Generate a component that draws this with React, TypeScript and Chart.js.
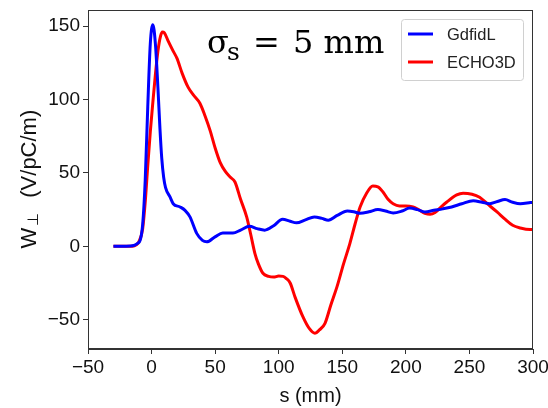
import React, { useEffect, useRef } from "react";
import { Chart, registerables } from "chart.js";

Chart.register(...registerables);

const gdfidlS = [-30, -20, -14, -11, -9, -7, -5, -3, -1, 1, 3, 5, 6.6, 8, 9.5, 11, 14.5, 17, 22.4, 26.3, 30.2, 35.5, 40, 43.4, 49.9, 56, 64, 70, 77, 83, 89, 96, 103, 109, 114, 121, 128, 134, 139, 146, 154, 159, 164, 171, 178, 184, 190, 197, 203, 209, 215, 222, 229, 236, 244, 253, 260, 266, 272, 278, 284, 290, 298, 300];
const gdfidlW = [0, 0, 0.5, 2, 4, 15, 45, 95, 138, 151, 138, 108, 80, 60, 47, 40, 33.6, 29, 26.8, 24.5, 20, 8.8, 4, 3, 6.4, 9, 9, 11, 13.6, 12, 11, 14, 18.4, 17, 16, 18, 20, 19, 17.7, 21, 24, 23.5, 22.5, 23.5, 25, 24, 22.7, 24, 26, 25, 23.4, 24.5, 25.5, 26.8, 29, 31, 30, 29, 30.5, 31.8, 30, 29, 29.8, 30];

const echoS = [-30, -20, -15, -12, -10, -7, -5, -3, -1, 1, 3, 5, 7, 8.5, 10, 13, 17, 20, 24, 28.6, 33, 38, 42, 46, 50, 54, 58, 62, 65.6, 70, 74.8, 78, 81.3, 84, 87.6, 92, 96, 100, 103.4, 106, 109, 113, 119, 124, 128.5, 132, 136.4, 141, 145.8, 151, 156, 160, 164, 169, 174, 178, 182, 186, 190, 195, 200, 205.6, 210, 215, 219, 223, 228, 232, 240, 245, 252, 258, 264, 271.7, 278, 284, 290, 297.7, 300];
const echoW = [0, 0, 0, 1, 3, 12, 30, 55, 78, 98, 117, 133, 143, 146, 145.5, 140, 133, 128, 118, 108.6, 103, 97.5, 89, 79, 67, 57, 51, 47, 43.8, 32, 20, 8, -5, -12, -18.4, -20.5, -21, -20.3, -20.5, -22, -25, -35, -48, -56, -59.3, -57, -52.5, -40, -27.7, -12, 2, 15, 26.8, 36, 41, 40.5, 37, 32, 29, 27.5, 27.5, 26.8, 25, 22.5, 21.8, 23, 27, 30, 35, 36.2, 35.5, 33.4, 29, 23.4, 18.5, 14.3, 12.5, 11.4, 11.5];

const xTicks = [-50, 0, 50, 100, 150, 200, 250, 300];
const yTicks = [-50, 0, 50, 100, 150];
const seriesLabels = ["GdfidL", "ECHO3D"];
const seriesColors = ["#0000ff", "#ff0000"];
const xTitle = "s (mm)";
const yTitleMain = "W";
const yTitleSub = "\u22A5";
const yTitleUnit = "(V/pC/m)";

const SANS = "'Liberation Sans', Arial, sans-serif";
const SERIF = "'DejaVu Serif', serif";

const framePlugin = {
  id: "frame",
  afterDraw(chart: any) {
    const { ctx, chartArea: a } = chart;
    ctx.save();
    ctx.strokeStyle = "#333333";
    ctx.lineWidth = 1;
    ctx.strokeRect(a.left + 0.5, a.top + 0.5, a.right - a.left - 1, a.bottom - a.top - 1);
    ctx.restore();
  },
};

const annotPlugin = {
  id: "annot",
  afterDraw(chart: any) {
    const { ctx, chartArea: a } = chart;
    ctx.save();
    ctx.fillStyle = "#000";
    ctx.textBaseline = "alphabetic";
    const base = a.top + 43;
    ctx.font = `32px ${SERIF}`;
    ctx.fillText("\u03C3", a.left + 119, base);
    ctx.font = `25px ${SERIF}`;
    ctx.fillText("s", a.left + 139, base + 7);
    ctx.font = `32px ${SERIF}`;
    ctx.fillText("=", a.left + 165, base);
    ctx.fillText("5 mm", a.left + 205, base);

    // y-axis title with subscript
    ctx.translate(36, (a.top + a.bottom) / 2 + 69);
    ctx.rotate(-Math.PI / 2);
    ctx.fillStyle = "#111";
    ctx.font = `22px ${SANS}`;
    ctx.fillText(yTitleMain, 0, 0);
    let x = ctx.measureText(yTitleMain).width + 2;
    ctx.font = `15px ${SANS}`;
    ctx.fillText(yTitleSub, x, 2);
    x += ctx.measureText(yTitleSub).width + 15;
    ctx.font = `22px ${SANS}`;
    ctx.fillText(yTitleUnit, x, 0);
    ctx.restore();
  },
};

const legendPlugin = {
  id: "customLegend",
  afterDraw(chart: any) {
    const { ctx, chartArea: a } = chart;
    const bx = a.right - 132;
    const by = a.top + 9;
    const bw = 122;
    const bh = 61;
    ctx.save();
    ctx.fillStyle = "rgba(255,255,255,0.8)";
    ctx.strokeStyle = "#d0d0d0";
    ctx.lineWidth = 1;
    ctx.beginPath();
    (ctx as any).roundRect(bx + 0.5, by + 0.5, bw, bh, 3);
    ctx.fill();
    ctx.stroke();
    ctx.font = `16.5px ${SANS}`;
    ctx.textBaseline = "middle";
    chart.data.datasets.forEach((ds: any, i: number) => {
      const y = by + 15 + i * 28;
      ctx.strokeStyle = ds.borderColor;
      ctx.lineWidth = 3;
      ctx.beginPath();
      ctx.moveTo(bx + 7, y);
      ctx.lineTo(bx + 32, y);
      ctx.stroke();
      ctx.fillStyle = "#222";
      ctx.fillText(ds.label, bx + 46, y + 1);
    });
    ctx.restore();
  },
};

export default function App() {
  const ref = useRef<HTMLCanvasElement>(null);
  useEffect(() => {
    document.body.style.margin = "0";
    const mk = (xs: number[], ys: number[]) => xs.map((x, i) => ({ x, y: ys[i] }));
    const chart = new Chart(ref.current!, {
      type: "line",
      data: {
        datasets: [
          { label: seriesLabels[0], data: mk(gdfidlS, gdfidlW), borderColor: seriesColors[0], backgroundColor: seriesColors[0], borderWidth: 3, pointRadius: 0, cubicInterpolationMode: "monotone" },
          { label: seriesLabels[1], data: mk(echoS, echoW), borderColor: seriesColors[1], backgroundColor: seriesColors[1], borderWidth: 3, pointRadius: 0, cubicInterpolationMode: "monotone" },
        ],
      },
      options: {
        animation: false,
        responsive: false,
        layout: { padding: { left: 0, right: 15, top: 10, bottom: 0 } },
        plugins: { legend: { display: false }, tooltip: { enabled: false } },
        scales: {
          x: {
            type: "linear",
            min: -50,
            max: 300,
            afterBuildTicks: (s: any) => { s.ticks = xTicks.map((v) => ({ value: v })); },
            afterFit: (s: any) => { s.height = 59; s.paddingLeft = 0; s.paddingRight = 0; },
            grid: { display: true, drawOnChartArea: false, drawTicks: true, tickLength: 5, color: "#333" },
            border: { display: true, color: "#333" },
            ticks: { font: { family: SANS, size: 19 }, color: "#111", padding: 2, maxRotation: 0, callback: (v: any) => String(v).replace("-", "\u2212") },
            title: { display: true, text: xTitle, font: { family: SANS, size: 20 }, color: "#111", padding: { top: 2, bottom: 0 } },
          },
          y: {
            type: "linear",
            min: -70,
            max: 161,
            afterBuildTicks: (s: any) => { s.ticks = yTicks.map((v) => ({ value: v })); },
            afterFit: (s: any) => { s.width = 88; s.paddingTop = 0; s.paddingBottom = 0; },
            grid: { display: true, drawOnChartArea: false, drawTicks: true, tickLength: 5, color: "#333" },
            border: { display: true, color: "#333" },
            ticks: { font: { family: SANS, size: 19 }, color: "#111", padding: 3, callback: (v: any) => String(v).replace("-", "\u2212") },
            title: { display: false },
          },
        },
      },
      plugins: [framePlugin, annotPlugin, legendPlugin],
    } as any);
    return () => chart.destroy();
  }, []);
  return (
    <div style={{ position: "absolute", left: 0, top: 0, width: 548, height: 408, background: "#fff" }}>
      <canvas ref={ref} width={548} height={408} style={{ display: "block" }} />
    </div>
  );
}
